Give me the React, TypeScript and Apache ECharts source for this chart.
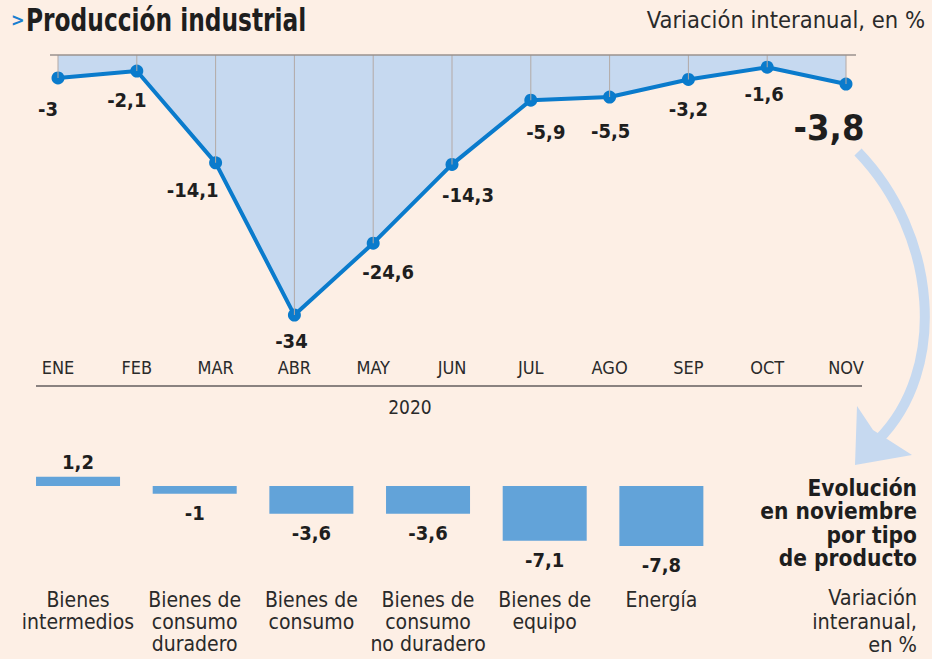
import React, { useEffect, useRef } from "react";
import * as echarts from "echarts";

const months = ["ENE", "FEB", "MAR", "ABR", "MAY", "JUN", "JUL", "AGO", "SEP", "OCT", "NOV"];
const monthly = [-3, -2.1, -14.1, -34, -24.6, -14.3, -5.9, -5.5, -3.2, -1.6, -3.8];
const labelOffsets = [[-10, 10], [-10, 7], [-23, 6], [-3, 4], [15, 7], [16, 9], [15, 10], [1, 12], [0, 8], [-3, 5], [-17, 14]];

const products = ["Bienes\nintermedios", "Bienes de\nconsumo\nduradero", "Bienes de\nconsumo", "Bienes de\nconsumo\nno duradero", "Bienes de\nequipo", "Energía"];
const productValues = [1.2, -1, -3.6, -3.6, -7.1, -7.8];

const FONT = "'Liberation Sans Narrow', 'DejaVu Sans Condensed', 'Roboto', sans-serif";
const BG = "#fdefe5";
const fmt = (v: number) => String(v).replace(".", ",");

export default function App() {
  const ref = useRef<HTMLDivElement>(null);
  useEffect(() => {
    const chart = echarts.init(ref.current!, null, { renderer: "svg" });
    const option: any = {
      animation: false,
      backgroundColor: BG,
      textStyle: { fontFamily: FONT },
      grid: [
        { left: 58, width: 788, top: 55, height: 290.7 },
        { left: 19.7, width: 700, top: 455.2, height: 107.8 },
      ],
      xAxis: [
        {
          gridIndex: 0,
          type: "category",
          data: months,
          boundaryGap: false,
          axisLine: { show: false },
          axisTick: { show: false },
          splitLine: { show: false },
          axisLabel: { color: "#2a2a2a", fontSize: 18, fontFamily: FONT, margin: 13 },
        },
        {
          gridIndex: 1,
          type: "category",
          data: products,
          axisLine: { show: false },
          axisTick: { show: false },
          axisLabel: { color: "#2a2a2a", fontSize: 21, lineHeight: 22, fontFamily: FONT, margin: 26, interval: 0 },
        },
      ],
      yAxis: [
        { gridIndex: 0, type: "value", min: -38, max: 0, show: false },
        { gridIndex: 1, type: "value", min: -10, max: 4, show: false },
      ],
      series: [
        {
          type: "bar",
          xAxisIndex: 0,
          yAxisIndex: 0,
          data: monthly,
          barWidth: 1,
          itemStyle: { color: "#b3aaa6" },
          z: 3,
          silent: true,
        },
        {
          type: "line",
          xAxisIndex: 0,
          yAxisIndex: 0,
          data: monthly.map((v, i) => ({
            value: v,
            label: {
              offset: labelOffsets[i],
              fontSize: i === monthly.length - 1 ? 36 : 20,
            },
          })),
          symbol: "circle",
          symbolSize: 13,
          lineStyle: { color: "#0a7bcc", width: 4 },
          itemStyle: { color: "#0a7bcc" },
          areaStyle: { color: "#c6d9f0", opacity: 1, origin: "end" },
          z: 2,
          label: {
            show: true,
            position: "bottom",
            distance: 5,
            color: "#1e1e1e",
            fontWeight: "bold",
            fontFamily: FONT,
            formatter: (p: any) => fmt(p.value),
          },
        },
        {
          type: "bar",
          xAxisIndex: 1,
          yAxisIndex: 1,
          barWidth: 84,
          data: productValues.map((v) => ({
            value: v,
            label: { position: v >= 0 ? "top" : "bottom", distance: v >= 0 ? 5 : 9 },
          })),
          itemStyle: { color: "#62a3d9" },
          label: {
            show: true,
            color: "#1e1e1e",
            fontWeight: "bold",
            fontSize: 20,
            fontFamily: FONT,
            formatter: (p: any) => fmt(p.value),
          },
        },
      ],
      graphic: [
        { type: "text", left: 11, top: 10, style: { text: ">", fontSize: 18, fontWeight: "bold", fill: "#1a7fd0", fontFamily: FONT } },
        { type: "text", x: 26, y: 4, scaleX: 0.81, style: { text: "Producción industrial", fontSize: 32, fontWeight: "bold", fill: "#1e1e1e", fontFamily: FONT } },
        { type: "text", x: 925, y: 8, style: { text: "Variación interanual, en %", fontSize: 23.5, fill: "#2a2a2a", fontFamily: FONT, align: "right" } },
        { type: "line", shape: { x1: 50, y1: 55, x2: 856, y2: 55 }, style: { stroke: "#9a928e", lineWidth: 1.5 }, z: 10 },
        { type: "line", shape: { x1: 36, y1: 386, x2: 862, y2: 386 }, style: { stroke: "#8a8280", lineWidth: 2 } },
        { type: "text", x: 410, y: 407, style: { text: "2020", fontSize: 19, fill: "#2a2a2a", fontFamily: FONT, align: "center", verticalAlign: "middle" } },
        {
          type: "bezierCurve",
          shape: { x1: 858, y1: 152, cpx1: 938, cpy1: 235, cpx2: 948, cpy2: 370, x2: 878, y2: 440 },
          style: { stroke: "#c6d9f0", lineWidth: 10, fill: "none" },
        },
        {
          type: "polygon",
          shape: { points: [[857, 406], [873, 430], [912, 455], [855, 465]] },
          style: { fill: "#c6d9f0" },
        },
        {
          type: "text",
          x: 917,
          y: 476,
          style: {
            text: "Evolución\nen noviembre\npor tipo\nde producto",
            fontSize: 22.5,
            lineHeight: 23.5,
            fontWeight: "bold",
            fill: "#1e1e1e",
            fontFamily: FONT,
            align: "right",
          },
        },
        {
          type: "text",
          x: 917,
          y: 586,
          style: {
            text: "Variación\ninteranual,\nen %",
            fontSize: 21.5,
            lineHeight: 23.5,
            fill: "#2a2a2a",
            fontFamily: FONT,
            align: "right",
          },
        },
      ],
    };
    chart.setOption(option);
    return () => chart.dispose();
  }, []);
  return <div ref={ref} style={{ width: 932, height: 659, position: "absolute", left: 0, top: 0 }} />;
}
